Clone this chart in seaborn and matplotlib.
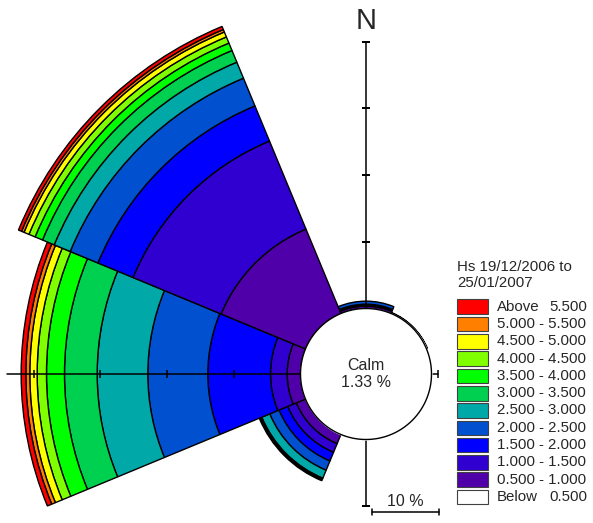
"""
Wave rose of significant wave height (Hs), 19/12/2006 - 25/01/2007.
Stacked polar bars per direction sector around a "calm" circle.
"""
import numpy as np
import matplotlib
matplotlib.use("Agg")
import matplotlib.pyplot as plt
from matplotlib.patches import Rectangle
from matplotlib.lines import Line2D
import seaborn as sns

# ---- data -------------------------------------------------------------
DIRECTIONS = ["N", "NE", "E", "SE", "S", "SW", "W", "NW"]
DIR_DEG = [0, 45, 90, 135, 180, 225, 270, 315]
SECTOR_DEG = 45

# percent of time per Hs class (0.5-1.0, 1.0-1.5, ..., above 5.5)
PCT_N = [0.35, 0.15, 0.15, 0.45, 0, 0, 0, 0, 0, 0, 0]
PCT_NE = [0.1, 0.05, 0, 0, 0, 0, 0, 0, 0, 0, 0]
PCT_E = [0, 0, 0, 0, 0, 0, 0, 0, 0, 0, 0]
PCT_SE = [0, 0, 0, 0, 0, 0, 0, 0, 0, 0, 0]
PCT_S = [0, 0, 0, 0, 0, 0, 0, 0, 0, 0, 0]
PCT_SW = [1.5, 1.4, 1.4, 1.5, 1.3, 0.2, 0.2, 0, 0, 0, 0]
PCT_W = [2.0, 2.5, 9.4, 9.0, 7.6, 4.9, 2.7, 1.4, 1.1, 0.6, 0.7]
PCT_NW = [13.7, 14.3, 5.7, 4.5, 2.6, 1.9, 1.2, 1.0, 0.8, 0.4, 0.5]
SECTOR_PCT = [PCT_N, PCT_NE, PCT_E, PCT_SE, PCT_S, PCT_SW, PCT_W, PCT_NW]

CALM_PCT = 1.33

# colours from 0.5-1.0 upward
HS_COLORS = ["#5000A8", "#3000D0", "#0000FF", "#0050D0", "#00A8A8",
             "#00D050", "#00FF00", "#80FF00", "#FFFF00", "#FF8000", "#FF0000"]
LEGEND_TITLE = ["Hs 19/12/2006 to", "25/01/2007"]
LEGEND_LABELS = ["Above|5.500", "5.000 - 5.500", "4.500 - 5.000", "4.000 - 4.500",
                 "3.500 - 4.000", "3.000 - 3.500", "2.500 - 3.000", "2.000 - 2.500",
                 "1.500 - 2.000", "1.000 - 1.500", "0.500 - 1.000", "Below|0.500"]
LEGEND_COLORS = HS_COLORS[::-1] + ["#FFFFFF"]

# axis arms: (direction deg, length %, tick positions %)
AXIS_ARMS = [(0, 40, [10, 20, 30, 40]),
             (270, 44, [10, 20, 30, 40]),
             (180, 10, [10]),
             (90, 1, [1])]
SCALE_PCT = 10

# ---- layout (pixels) --------------------------------------------------
W_PX, H_PX = 593, 523
CX, CY = 366, 374           # rose centre
PX_PER_PCT = 6.667
CALM_R = 65.5 / PX_PER_PCT  # calm circle radius in % units
R_MAX = 50
LEG_FS = 10.8


def fx(x):
    return x / W_PX


def fy(y):
    return 1 - y / H_PX


sns.set_style("white")
plt.rcParams["font.family"] = ["Liberation Sans", "DejaVu Sans"]
palette = sns.color_palette(HS_COLORS)

fig = plt.figure(figsize=(W_PX / 100, H_PX / 100), dpi=100)
fig.patch.set_facecolor("white")

r_px = (R_MAX + CALM_R) * PX_PER_PCT
ax = fig.add_axes([fx(CX - r_px), fy(CY + r_px), 2 * r_px / W_PX, 2 * r_px / H_PX],
                  projection="polar")
ax.set_theta_zero_location("N")
ax.set_theta_direction(-1)
ax.set_ylim(-CALM_R, R_MAX)
ax.set_facecolor("none")
ax.grid(False)
ax.set_xticks([])
ax.set_yticks([])
for sp in ax.spines.values():
    sp.set_visible(False)

# stacked sectors
width = np.deg2rad(SECTOR_DEG)
for deg, vals in zip(DIR_DEG, SECTOR_PCT):
    cum = 0.0
    for v, col in zip(vals, palette):
        if v <= 0:
            continue
        ax.bar(np.deg2rad(deg), v, width=width, bottom=cum, color=col,
               edgecolor="black", linewidth=1.0, zorder=2)
        cum += v

# axis arms with ticks
for deg, length, ticks in AXIS_ARMS:
    th = np.deg2rad(deg)
    ax.plot([th, th], [0, length], color="black", lw=1.1, zorder=5)
    mk = "_" if deg in (0, 180) else "|"
    ax.plot([th] * len(ticks), ticks, linestyle="none", marker=mk,
            markersize=6, markeredgewidth=1.1, color="black", zorder=5)

# calm circle
tg = np.linspace(0, 2 * np.pi, 361)
ax.fill_between(tg, -CALM_R, 0, color="white", zorder=6)
ax.plot(tg, np.zeros_like(tg), color="black", lw=1.0, zorder=7)
ax.text(0, -CALM_R, f"Calm\n{CALM_PCT:.2f} %", ha="center", va="center",
        fontsize=11.5, linespacing=1.2, zorder=8)

# north label
fig.text(fx(CX), fy(21), "N", ha="center", va="center", fontsize=21)

# scale bar
bar_len = SCALE_PCT * PX_PER_PCT
x0, x1, yb = 372, 372 + bar_len, 512
fig.add_artist(Line2D([fx(x0), fx(x1)], [fy(yb), fy(yb)], color="black", lw=1.1))
for xe in (x0, x1):
    fig.add_artist(Line2D([fx(xe), fx(xe)], [fy(yb - 3), fy(yb + 3)], color="black", lw=1.1))
fig.text(fx((x0 + x1) / 2), fy(502), f"{SCALE_PCT} %", ha="center", va="center",
         fontsize=11.5)

# legend
for j, line in enumerate(LEGEND_TITLE):
    fig.text(fx(457), fy(267.3 + 16 * j), line, ha="left", va="center", fontsize=LEG_FS)
row0, row_step = 306.7, 17.3
for i, (lab, col) in enumerate(zip(LEGEND_LABELS, LEGEND_COLORS)):
    yc = row0 + i * row_step
    fig.add_artist(Rectangle((fx(457), fy(yc + 7.3)), 31 / W_PX, 14.6 / H_PX,
                             facecolor=col, edgecolor="#404040", lw=0.8,
                             transform=fig.transFigure))
    if "|" in lab:
        word, num = lab.split("|")
        fig.text(fx(497), fy(yc), word, ha="left", va="center", fontsize=LEG_FS)
        fig.text(fx(587), fy(yc), num, ha="right", va="center", fontsize=LEG_FS)
    else:
        fig.text(fx(497), fy(yc), lab, ha="left", va="center", fontsize=LEG_FS)

fig.savefig("out.png", dpi=100)
